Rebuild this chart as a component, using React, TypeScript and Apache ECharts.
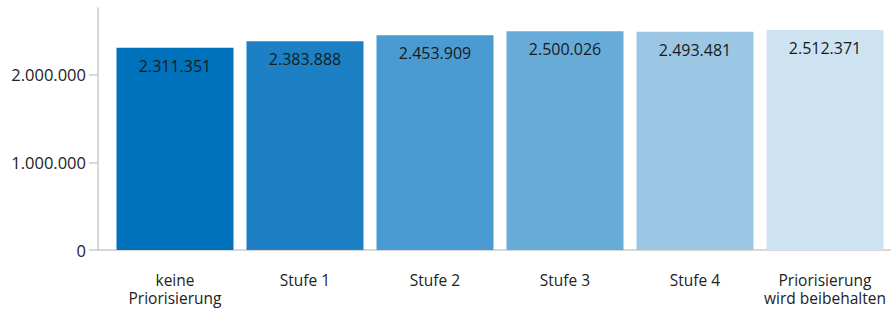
import React, { useEffect, useRef } from "react";
import * as echarts from "echarts";

const categories = [
  "keine\nPriorisierung",
  "Stufe 1",
  "Stufe 2",
  "Stufe 3",
  "Stufe 4",
  "Priorisierung\nwird beibehalten",
];
const values = [2311351, 2383888, 2453909, 2500026, 2493481, 2512371];
const barColors = ["#0071bb", "#1d80c4", "#4a9bd1", "#67abd9", "#9bc7e5", "#cde3f1"];
const yTicks = [0, 1000000, 2000000];

const fmt = (v: number) => String(Math.round(v)).replace(/\B(?=(\d{3})+(?!\d))/g, ".");

export default function App() {
  const ref = useRef<HTMLDivElement>(null);
  useEffect(() => {
    if (!ref.current) return;
    const chart = echarts.init(ref.current, null, { renderer: "svg" });
    const font = "'Open Sans', 'Noto Sans', sans-serif";
    const axisColor = "#cbcbcb";
    chart.setOption({
      animation: false,
      grid: { left: 110, right: 1, top: 8, bottom: 61 },
      graphic: [
        {
          type: "line",
          shape: { x1: 98, y1: 250, x2: 111, y2: 250 },
          style: { stroke: axisColor, lineWidth: 1.5 },
          silent: true,
        },
      ],
      xAxis: {
        type: "category",
        data: categories,
        axisLine: { lineStyle: { color: axisColor, width: 1.5 } },
        axisTick: { alignWithLabel: true, length: 7, lineStyle: { color: axisColor, width: 1.5 } },
        axisLabel: {
          color: "#222",
          fontFamily: font,
          fontSize: 15.5,
          lineHeight: 18,
          margin: 21,
          interval: 0,
        },
      },
      yAxis: {
        type: "value",
        min: 0,
        max: 2765000,
        interval: 1000000,
        offset: 12,
        splitLine: { show: false },
        axisLine: { show: true, lineStyle: { color: axisColor, width: 1.5 } },
        axisTick: { show: true, length: 9, customValues: yTicks, lineStyle: { color: axisColor, width: 1.5 } },
        axisLabel: {
          customValues: yTicks,
          color: "#222",
          fontFamily: font,
          fontSize: 16.5,
          margin: 12,
          formatter: (v: number) => fmt(v),
        },
      },
      series: [
        {
          type: "bar",
          barWidth: 117,
          data: values.map((v, i) => ({ value: v, itemStyle: { color: barColors[i] } })),
          label: {
            show: true,
            position: "insideTop",
            distance: 10,
            color: "#1a1a1a",
            fontFamily: font,
            fontSize: 16,
            formatter: (p: any) => fmt(p.value),
          },
        },
      ],
    });
    return () => chart.dispose();
  }, []);
  return (
    <div
      ref={ref}
      style={{ position: "absolute", left: 0, top: 0, width: 891, height: 311 }}
    />
  );
}
